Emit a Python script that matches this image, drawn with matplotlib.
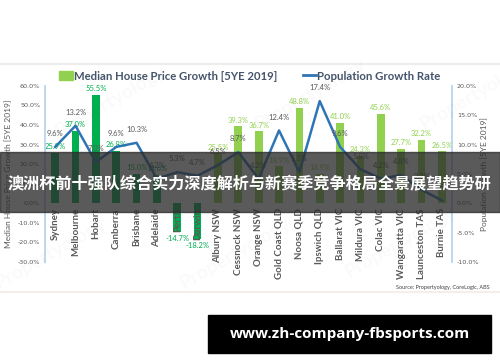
import matplotlib.pyplot as plt
from matplotlib.patches import Rectangle
from matplotlib.lines import Line2D

# data
towns = ['Sydney', 'Melbourne', 'Hobart', 'Canberra', 'Brisbane', 'Adelaide', 'Perth', 'Darwin',
         'Albury NSW', 'Cessnock NSW', 'Orange NSW', 'Gold Coast QLD', 'Noosa QLD', 'Ipswich QLD',
         'Ballarat VIC', 'Mildura VIC', 'Colac VIC', 'Wangaratta VIC', 'Launceston TAS', 'Burnie TAS']
price_growth = [25.9, 37.0, 55.5, 26.8, 15.0, 14.6, -14.7, -18.2,
                25.5, 39.3, 36.7, 18.9, 48.8, 14.9, 41.0, 24.3, 45.6, 27.7, 32.2, 26.5]
pop_growth = [9.6, 13.2, 7.0, 9.6, 10.3, 4.2, 5.3, 4.7,
              6.5, 8.7, 4.2, 12.4, 5.3, 17.4, 9.6, 5.8, 4.2, 4.8, 2.3, 0.5]
n_capitals = 8
left_ticks = [-30, -20, -10, 0, 10, 20, 30, 40, 50, 60]
right_ticks = [-10, -5, 0, 5, 10, 15, 20]

city_green = '#00b050'
region_green = '#92d050'
line_blue = '#2f75b5'
grey = '#595959'
font = 'Lato'

fig = plt.figure(figsize=(5, 3.62), dpi=100)
ax = fig.add_axes([0.09, 0.276, 0.814, 0.487])
ax2 = ax.twinx()

x = list(range(len(towns)))
colors = [city_green if i < n_capitals else region_green for i in x]
ax.bar(x, price_growth, width=0.38, color=colors, zorder=2)
for i, v in enumerate(price_growth):
    ax.annotate(f'{v:.1f}%', (i, v), xytext=(0, 2 if v > 0 else -2), textcoords='offset points',
                ha='center', va='bottom' if v > 0 else 'top', fontsize=5.5, color=colors[i],
                family=font)

ax2.plot(x, pop_growth, color=line_blue, lw=1.8, zorder=3)
for i, v in enumerate(pop_growth):
    ax2.annotate(f'{v:.1f}%', (i, v), xytext=(0, 7), textcoords='offset points',
                 ha='center', va='bottom', fontsize=5.5, color=grey, family=font)

ax.set_xlim(-0.5, len(towns) - 0.5)
ax.set_ylim(-30, 60)
ax2.set_ylim(-10, 20)
ax.set_yticks(left_ticks)
ax.set_yticklabels([f'{t:.1f}%' for t in left_ticks])
ax2.set_yticks(right_ticks)
ax2.set_yticklabels([f'{t:.1f}%' for t in right_ticks])
for a in (ax, ax2):
    a.tick_params(length=0, labelsize=4.6, colors=grey)
    a.spines['top'].set_visible(False)
    a.spines['bottom'].set_visible(False)
    a.spines['left'].set_color('#bdd7ee')
    a.spines['right'].set_color('#bdd7ee')
    a.spines['left'].set_linewidth(1.2)
    a.spines['right'].set_linewidth(1.2)
ax.set_xticks([])
ax.patch.set_alpha(0)

# category names just below the zero line
for i, name in enumerate(towns):
    ax.text(i, -2.5, name, rotation=90, ha='center', va='top', fontsize=7,
            fontweight='bold', color=grey, family=font, zorder=4)

ax.set_ylabel('Median House Price Growth [5YE 2019]', fontsize=6, color=grey, family=font, labelpad=4)
ax2.set_ylabel('Population Growth [5YE 2019]', fontsize=6, color=grey, family=font, labelpad=1, rotation=90)

handles = [Rectangle((0, 0), 1, 1, color=region_green), Line2D([], [], color=line_blue, lw=2)]
fig.legend(handles, ['Median House Price Growth [5YE 2019]', 'Population Growth Rate'],
           loc='center', bbox_to_anchor=(0.5, 0.79), ncol=2, frameon=False, handlelength=1.2,
           handleheight=0.9, handletextpad=0.1, columnspacing=2.2,
           prop={'family': font, 'weight': 'bold', 'size': 8.2}, labelcolor='#44546a')

# faint watermarks
for wx, wy in [(0.22, 0.72), (0.62, 0.74), (0.95, 0.74), (0.1, 0.3), (0.47, 0.3), (0.8, 0.33)]:
    fig.text(wx, wy, 'Propertyology', rotation=30, fontsize=14, color='#000000', alpha=0.025,
             ha='center', va='center', family=font, fontweight='bold')

fig.text(0.98, 0.207, 'Source: Propertyology, CoreLogic, ABS', fontsize=4, color='#404040',
         ha='right', va='center', family=font)

# frame lines of the chart picture
fig.add_artist(Line2D([0, 1], [0.823, 0.823], color='#ececec', lw=1.5))
fig.add_artist(Line2D([0, 1], [0.192, 0.192], color='#f4f0e8', lw=1.5))

# dark banner across the middle
fig.add_artist(Rectangle((0, 0.414), 1, 0.166, transform=fig.transFigure,
                         color='#2b2b2b', alpha=0.78, zorder=10))
fig.text(0.016, 0.494, '澳洲杯前十强队综合实力深度解析与新赛季竞争格局全景展望趋势研',
         color='white', fontsize=11.6, fontweight='bold', va='center', ha='left',
         family=['Noto Sans CJK SC', 'DejaVu Sans'], zorder=11)

# url box at the bottom
fig.add_artist(Rectangle((0.416, 0.025), 0.566, 0.105, transform=fig.transFigure,
                         color='black', zorder=10))
fig.text(0.699, 0.078, 'www.zh-company-fbsports.com', color='white', fontsize=11,
         fontweight='bold', ha='center', va='center', family='Open Sans', zorder=11)

fig.savefig('out.png', dpi=100)
